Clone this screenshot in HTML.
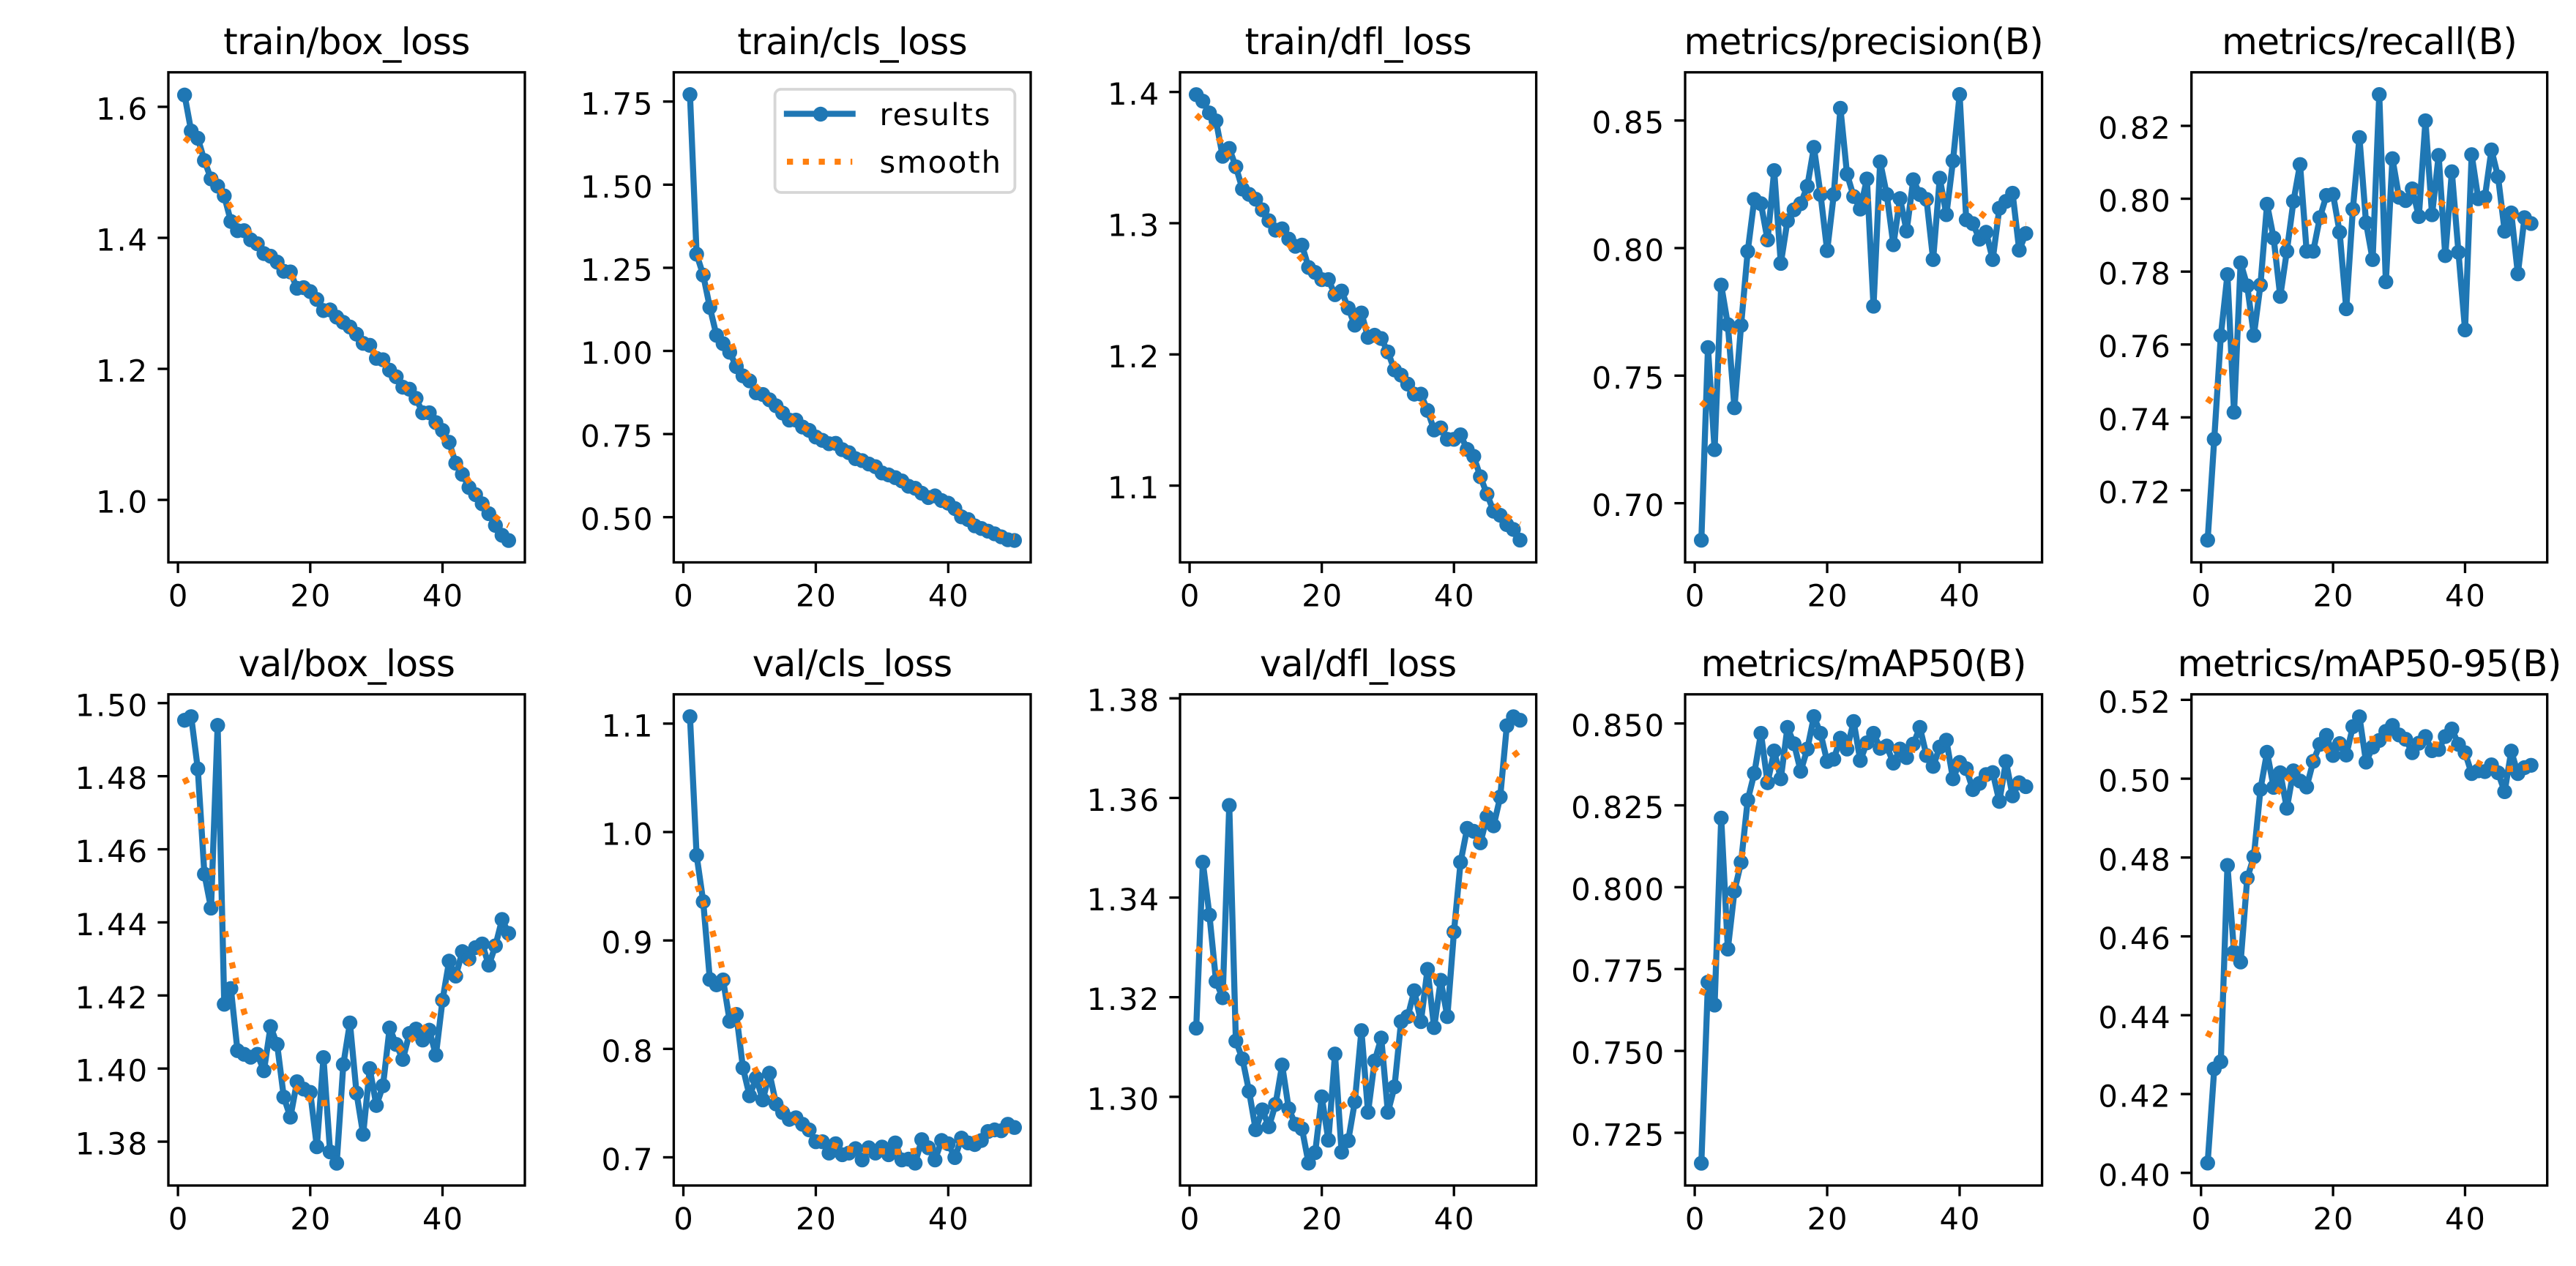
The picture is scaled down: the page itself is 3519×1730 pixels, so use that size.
<!DOCTYPE html>
<html lang="en">
<head>
<meta charset="utf-8">
<title>Training results</title>
<style>
html,body{margin:0;padding:0;background:#fff;width:3519px;height:1730px;overflow:hidden}
svg{display:block}
text{font-family:"DejaVu Sans","Liberation Sans",sans-serif;fill:#000;text-rendering:geometricPrecision}
</style>
</head>
<body>
<svg id="figure" xmlns="http://www.w3.org/2000/svg" width="3519" height="1730" viewBox="0 0 3519 1730"></svg>
<script>
const epochs = [1,2,3,4,5,6,7,8,9,10,11,12,13,14,15,16,17,18,19,20,21,22,23,24,25,26,27,28,29,30,31,32,33,34,35,36,37,38,39,40,41,42,43,44,45,46,47,48,49,50];
const xTickLabels = ["0","20","40"];
const xDomain = [-1.45, 52.45];

const trainBoxResults = [1.618,1.563,1.552,1.518,1.49,1.479,1.464,1.425,1.411,1.411,1.397,1.391,1.376,1.372,1.363,1.349,1.348,1.323,1.324,1.318,1.306,1.289,1.29,1.279,1.271,1.264,1.253,1.239,1.236,1.216,1.214,1.198,1.188,1.172,1.169,1.155,1.133,1.133,1.118,1.106,1.088,1.056,1.039,1.019,1.008,0.994,0.979,0.961,0.946,0.938];
const trainBoxSmooth = [1.553,1.545,1.536,1.519,1.5,1.481,1.462,1.447,1.43,1.418,1.405,1.392,1.382,1.372,1.362,1.352,1.343,1.333,1.324,1.315,1.306,1.297,1.288,1.279,1.27,1.261,1.251,1.241,1.232,1.222,1.21,1.199,1.188,1.175,1.165,1.154,1.139,1.125,1.113,1.097,1.08,1.062,1.045,1.028,1.012,0.998,0.985,0.974,0.966,0.961];
const trainBoxTicks = ["1.0","1.2","1.4","1.6"];
const trainBoxDomain = [0.9046,1.6527];

const trainClsResults = [1.771,1.291,1.228,1.131,1.047,1.022,0.996,0.953,0.925,0.91,0.874,0.869,0.853,0.835,0.813,0.792,0.792,0.771,0.761,0.741,0.731,0.721,0.722,0.703,0.694,0.676,0.67,0.66,0.652,0.633,0.627,0.619,0.609,0.593,0.587,0.572,0.559,0.564,0.55,0.542,0.526,0.501,0.493,0.474,0.466,0.458,0.45,0.441,0.432,0.43];
const trainClsSmooth = [1.33,1.30,1.253,1.2,1.135,1.083,1.035,0.985,0.947,0.92,0.892,0.87,0.85,0.836,0.82,0.804,0.787,0.772,0.76,0.748,0.737,0.725,0.715,0.705,0.695,0.684,0.674,0.662,0.652,0.64,0.628,0.617,0.606,0.596,0.585,0.574,0.564,0.555,0.546,0.534,0.522,0.509,0.495,0.482,0.469,0.46,0.453,0.447,0.443,0.44];
const trainClsTicks = ["0.50","0.75","1.00","1.25","1.50","1.75"];
const trainClsDomain = [0.364,1.838];

const trainDflResults = [1.398,1.393,1.384,1.378,1.351,1.357,1.343,1.326,1.322,1.3183,1.3102,1.3019,1.2947,1.2957,1.2879,1.2824,1.2833,1.2663,1.2625,1.257,1.257,1.2455,1.2483,1.2353,1.2223,1.2316,1.213,1.2146,1.2121,1.2019,1.1882,1.1842,1.1774,1.1697,1.1697,1.1573,1.1424,1.144,1.1353,1.1353,1.1387,1.1276,1.1223,1.1068,1.0935,1.0805,1.0774,1.0703,1.0666,1.0585];
const trainDflSmooth = [1.3825,1.378,1.3735,1.3675,1.36,1.3505,1.342,1.3345,1.3265,1.3175,1.3095,1.3025,1.296,1.2895,1.284,1.278,1.2725,1.2665,1.2605,1.2555,1.251,1.2455,1.2395,1.2345,1.229,1.2245,1.2185,1.2125,1.2065,1.1985,1.1925,1.1845,1.178,1.171,1.164,1.157,1.1505,1.1445,1.139,1.133,1.1275,1.1215,1.114,1.105,1.0965,1.0875,1.0815,1.0765,1.073,1.0705];
const trainDflTicks = ["1.1","1.2","1.3","1.4"];
const trainDflDomain = [1.0415,1.415];

const precisionResults = [0.6855,0.761,0.721,0.7855,0.77,0.7374,0.7697,0.7987,0.8191,0.8174,0.8032,0.8304,0.794,0.8107,0.815,0.8174,0.8242,0.8395,0.821,0.799,0.821,0.8548,0.829,0.8202,0.8153,0.8271,0.7772,0.8338,0.821,0.8013,0.8194,0.8067,0.8268,0.821,0.8191,0.7955,0.8274,0.8131,0.8342,0.8602,0.8111,0.8096,0.8035,0.8062,0.7955,0.8156,0.8183,0.8215,0.7992,0.8057];
const precisionSmooth = [0.738,0.741,0.7465,0.7535,0.7615,0.768,0.7765,0.7845,0.7935,0.8,0.8055,0.8095,0.812,0.8145,0.816,0.818,0.8195,0.821,0.8225,0.823,0.8235,0.824,0.823,0.8215,0.82,0.8185,0.817,0.816,0.8155,0.8152,0.8152,0.8155,0.816,0.817,0.818,0.8195,0.8205,0.821,0.821,0.8205,0.8185,0.816,0.814,0.812,0.8108,0.8103,0.8098,0.8095,0.8092,0.809];
const precisionTicks = ["0.70","0.75","0.80","0.85"];
const precisionDomain = [0.6768,0.8689];

const recallResults = [0.7063,0.734,0.7624,0.7792,0.7414,0.7824,0.7761,0.7625,0.7763,0.7985,0.7892,0.7732,0.7856,0.7993,0.8094,0.7856,0.7856,0.7948,0.8009,0.8012,0.7908,0.7698,0.7971,0.8168,0.7934,0.7833,0.8286,0.7772,0.811,0.8004,0.7995,0.8027,0.7951,0.8214,0.7956,0.8119,0.7844,0.8074,0.7853,0.764,0.8121,0.8,0.8004,0.8134,0.806,0.7911,0.7961,0.7794,0.7948,0.7932];
const recallSmooth = [0.744,0.7468,0.7505,0.7555,0.76,0.7645,0.769,0.7725,0.7762,0.7802,0.783,0.7865,0.789,0.7908,0.7925,0.7932,0.7937,0.7938,0.794,0.794,0.7945,0.795,0.796,0.797,0.7978,0.7985,0.7995,0.8003,0.801,0.8015,0.8018,0.802,0.802,0.8018,0.8007,0.7992,0.7982,0.7972,0.7964,0.7961,0.7968,0.7976,0.7981,0.7983,0.7983,0.7972,0.7962,0.7943,0.7937,0.7934];
const recallTicks = ["0.72","0.74","0.76","0.78","0.80","0.82"];
const recallDomain = [0.7002,0.8347];

const valBoxResults = [1.4953,1.4963,1.482,1.4532,1.4439,1.4939,1.4176,1.4219,1.4049,1.4039,1.4031,1.4039,1.3994,1.4115,1.4066,1.3922,1.3867,1.3964,1.3944,1.3935,1.3786,1.403,1.3772,1.3741,1.4011,1.4125,1.3933,1.382,1.4,1.3899,1.3953,1.4111,1.4066,1.4025,1.4096,1.4108,1.4078,1.4105,1.4037,1.4187,1.4294,1.4253,1.432,1.43,1.4331,1.4341,1.4283,1.4336,1.4408,1.437];
const valBoxSmooth = [1.4795,1.4757,1.4703,1.4632,1.4555,1.4465,1.4385,1.43,1.4225,1.4155,1.4105,1.406,1.4035,1.4015,1.3995,1.398,1.396,1.3945,1.393,1.3915,1.3907,1.3905,1.3908,1.3912,1.3922,1.3932,1.3945,1.396,1.3975,1.3985,1.4005,1.4025,1.4044,1.406,1.4075,1.409,1.4105,1.4125,1.416,1.4195,1.4225,1.425,1.4272,1.429,1.431,1.432,1.4332,1.4342,1.435,1.4355];
const valBoxTicks = ["1.38","1.40","1.42","1.44","1.46","1.48","1.50"];
const valBoxDomain = [1.368,1.5024];

const valClsResults = [1.1064,0.9785,0.9358,0.864,0.8591,0.8636,0.8255,0.8318,0.7825,0.7567,0.7731,0.7529,0.7776,0.7492,0.7413,0.735,0.7365,0.7305,0.7253,0.7144,0.7144,0.7039,0.7125,0.7024,0.7039,0.708,0.6976,0.7088,0.7039,0.7095,0.7024,0.7133,0.6976,0.6983,0.6946,0.7163,0.7088,0.6976,0.7155,0.7125,0.6998,0.7177,0.7133,0.7118,0.7155,0.7238,0.7253,0.7245,0.7305,0.7275];
const valClsSmooth = [0.9635,0.9525,0.9355,0.9165,0.8955,0.871,0.8455,0.8285,0.81,0.792,0.7795,0.7695,0.7605,0.7525,0.746,0.74,0.734,0.729,0.7245,0.72,0.716,0.7125,0.7105,0.708,0.7075,0.7065,0.7062,0.706,0.7058,0.7055,0.7052,0.7051,0.7051,0.7051,0.706,0.7068,0.7078,0.7085,0.7098,0.711,0.7125,0.714,0.7155,0.7175,0.7195,0.7212,0.7228,0.7241,0.725,0.7258];
const valClsTicks = ["0.7","0.8","0.9","1.0","1.1"];
const valClsDomain = [0.674,1.127];

const valDflResults = [1.3138,1.3471,1.3365,1.3232,1.3199,1.3585,1.3112,1.3076,1.3011,1.2934,1.2974,1.294,1.2985,1.3064,1.2976,1.2945,1.2936,1.2867,1.2888,1.3,1.2913,1.3086,1.2889,1.2912,1.299,1.3133,1.2969,1.3072,1.3118,1.2969,1.302,1.3151,1.3161,1.3213,1.3151,1.3256,1.3139,1.3234,1.3161,1.3331,1.3471,1.3539,1.3533,1.351,1.3562,1.3544,1.3602,1.3745,1.3763,1.3756];
const valDflSmooth = [1.3298,1.329,1.328,1.3265,1.3232,1.3195,1.3165,1.3122,1.308,1.3048,1.302,1.2998,1.2985,1.2972,1.2962,1.2955,1.295,1.2947,1.2949,1.2953,1.296,1.2968,1.298,1.299,1.3008,1.3022,1.3038,1.3055,1.3072,1.3088,1.3102,1.312,1.3142,1.3165,1.319,1.3212,1.324,1.3275,1.3308,1.3345,1.3395,1.3445,1.349,1.3535,1.358,1.3612,1.3642,1.3668,1.3685,1.3695];
const valDflTicks = ["1.30","1.32","1.34","1.36","1.38"];
const valDflDomain = [1.2822,1.3808];

const map50Results = [0.7157,0.771,0.764,0.8211,0.7811,0.7988,0.8076,0.8266,0.8348,0.847,0.8319,0.8416,0.8331,0.8488,0.8438,0.8354,0.8422,0.8521,0.847,0.8384,0.8391,0.8455,0.8422,0.8506,0.8387,0.8441,0.847,0.8424,0.8431,0.8379,0.8422,0.8396,0.8437,0.8488,0.8402,0.8369,0.8428,0.8449,0.8331,0.8381,0.8362,0.8298,0.8317,0.8344,0.835,0.8262,0.8384,0.8279,0.8319,0.8307];
const map50Smooth = [0.7672,0.7715,0.7765,0.784,0.7935,0.8015,0.8085,0.8175,0.8245,0.8295,0.8335,0.8363,0.8385,0.8402,0.8413,0.8421,0.8427,0.8431,0.8434,0.8436,0.8437,0.8437,0.8437,0.8437,0.8437,0.8434,0.8432,0.8429,0.8426,0.8424,0.8423,0.8422,0.842,0.8417,0.8413,0.8408,0.8401,0.8392,0.8382,0.8371,0.8357,0.8345,0.8337,0.8331,0.8328,0.8324,0.832,0.8318,0.8316,0.8315];
const map50Ticks = ["0.725","0.750","0.775","0.800","0.825","0.850"];
const map50Domain = [0.7089,0.8589];

const map5095Results = [0.4025,0.4264,0.4282,0.478,0.456,0.4535,0.4748,0.4802,0.4973,0.5067,0.4978,0.5015,0.4925,0.502,0.4994,0.4979,0.5044,0.5087,0.511,0.5059,0.5089,0.506,0.5132,0.5157,0.5042,0.508,0.5097,0.512,0.5135,0.5111,0.51,0.5066,0.509,0.5107,0.5071,0.5074,0.5107,0.5126,0.5087,0.5066,0.5013,0.502,0.5018,0.5035,0.5015,0.4967,0.507,0.5013,0.5028,0.5034];
const map5095Smooth = [0.4345,0.4378,0.4425,0.4502,0.4578,0.4655,0.4725,0.4795,0.4865,0.492,0.495,0.4975,0.4997,0.5012,0.5025,0.5039,0.505,0.506,0.5072,0.5082,0.509,0.5093,0.5096,0.5098,0.51,0.5101,0.5102,0.5102,0.5101,0.51,0.5098,0.5096,0.5094,0.5092,0.5088,0.5086,0.5081,0.5074,0.5066,0.5056,0.5048,0.504,0.5031,0.5027,0.5024,0.5024,0.5025,0.5026,0.5028,0.5031];
const map5095Ticks = ["0.40","0.42","0.44","0.46","0.48","0.50","0.52"];
const map5095Domain = [0.3968,0.5214];

const panelTitles = ["train/box_loss","train/cls_loss","train/dfl_loss","metrics/precision(B)","metrics/recall(B)","val/box_loss","val/cls_loss","val/dfl_loss","metrics/mAP50(B)","metrics/mAP50-95(B)"];
const panelResults = [trainBoxResults,trainClsResults,trainDflResults,precisionResults,recallResults,valBoxResults,valClsResults,valDflResults,map50Results,map5095Results];
const panelSmooth = [trainBoxSmooth,trainClsSmooth,trainDflSmooth,precisionSmooth,recallSmooth,valBoxSmooth,valClsSmooth,valDflSmooth,map50Smooth,map5095Smooth];
const panelTicks = [trainBoxTicks,trainClsTicks,trainDflTicks,precisionTicks,recallTicks,valBoxTicks,valClsTicks,valDflTicks,map50Ticks,map5095Ticks];
const panelDomains = [trainBoxDomain,trainClsDomain,trainDflDomain,precisionDomain,recallDomain,valBoxDomain,valClsDomain,valDflDomain,map50Domain,map5095Domain];
const legendLabels = ["results","smooth"];

const SVGNS = "http://www.w3.org/2000/svg";
const BLUE = "#1f77b4", ORANGE = "#ff7f0e";
const LW = 8.33, SPINE = 3.33, TICK = 14.6, MARKER_R = 10.2;
const DOTS = "8.33 13.4";
const FONT_TICK = 41.67, FONT_TITLE = 50;
const SPACING_TICK = 1.9, SPACING_TITLE = -0.6;
const colBox = [[230,717],[920.4,1408],[1612,2098.6],[2302,2789.6],[2993.7,3479.7]];
const rowBox = [[98.8,768.5],[948.8,1620]];
const figure = document.getElementById("figure");

function mk(parent, tag, attrs, text){
  const el = document.createElementNS(SVGNS, tag);
  for (const k in attrs) el.setAttribute(k, attrs[k]);
  if (text !== undefined) el.textContent = text;
  parent.appendChild(el);
  return el;
}
function slugOf(title){
  return title.toLowerCase().replace(/[^a-z0-9]+/g, "-").replace(/-$/, "");
}
function pathOf(xs, ys){
  return xs.map((x, i) => (i ? "L" : "M") + x.toFixed(2) + " " + ys[i].toFixed(2)).join("");
}

function drawPanel(i){
  const slug = slugOf(panelTitles[i]);
  const [left, right] = colBox[i % 5];
  const [top, bottom] = rowBox[Math.floor(i / 5)];
  const yDomain = panelDomains[i];
  const xScale = v => left + (v - xDomain[0]) / (xDomain[1] - xDomain[0]) * (right - left);
  const yScale = v => bottom - (v - yDomain[0]) / (yDomain[1] - yDomain[0]) * (bottom - top);

  const g = mk(figure, "g", {});
  
  

  const bg = mk(g, "rect", {x:left, y:top, width:right-left, height:bottom-top, fill:"#fff"});
  
  

  const clipId = "clip-" + i;
  const defs = mk(g, "defs", {});
  const clip = mk(defs, "clipPath", {id:clipId});
  mk(clip, "rect", {x:left, y:top, width:right-left, height:bottom-top});

  xTickLabels.forEach(label => {
    const v = Number(label), x = xScale(v);
    const tick = mk(g, "line", {x1:x, x2:x, y1:bottom, y2:bottom+TICK, stroke:"#000", "stroke-width":SPINE});
    
    
    const t = mk(g, "text", {x:x+SPACING_TICK/2, y:bottom+60, "text-anchor":"middle", "font-size":FONT_TICK, "letter-spacing":SPACING_TICK}, label);
    
    
  });

  panelTicks[i].forEach(label => {
    const v = Number(label), y = yScale(v);
    const tick = mk(g, "line", {x1:left-TICK, x2:left, y1:y, y2:y, stroke:"#000", "stroke-width":SPINE});
    
    
    const t = mk(g, "text", {x:left-27, y:y+17.5, "text-anchor":"end", "font-size":FONT_TICK, "letter-spacing":SPACING_TICK}, label);
    
    
  });

  const plot = mk(g, "g", {"clip-path":"url(#" + clipId + ")"});
  
  

  const xs = epochs.map(xScale);
  const line = mk(plot, "path", {d:pathOf(xs, panelResults[i].map(yScale)), fill:"none", stroke:BLUE, "stroke-width":LW, "stroke-linejoin":"round", "stroke-linecap":"square"});
  
  

  panelResults[i].forEach((v, k) => {
    const pt = mk(plot, "circle", {cx:xs[k], cy:yScale(v), r:MARKER_R, fill:BLUE});
    
    
  });

  const smooth = mk(plot, "path", {d:pathOf(xs, panelSmooth[i].map(yScale)), fill:"none", stroke:ORANGE, "stroke-width":LW, "stroke-dasharray":DOTS, "stroke-linejoin":"round"});
  
  

  const frame = mk(g, "rect", {x:left, y:top, width:right-left, height:bottom-top, fill:"none", stroke:"#000", "stroke-width":SPINE});
  
  

  const title = mk(g, "text", {x:(left+right)/2, y:top-25, "text-anchor":"middle", "font-size":FONT_TITLE, "letter-spacing":SPACING_TITLE}, panelTitles[i]);
  
  
}

function drawLegend(){
  const g = mk(figure, "g", {});
  
  

  const box = mk(g, "rect", {x:1058.6, y:122, width:327.8, height:141, rx:8.3, ry:8.3, fill:"#fff", "fill-opacity":0.8, stroke:"#ccc", "stroke-opacity":0.8, "stroke-width":3.8});
  
  

  const h1 = mk(g, "line", {x1:1075, x2:1164.6, y1:155.5, y2:155.5, stroke:BLUE, "stroke-width":LW, "stroke-linecap":"square"});
  
  

  const m1 = mk(g, "circle", {cx:1121, cy:156, r:MARKER_R, fill:BLUE});
  
  

  const t1 = mk(g, "text", {x:1201.5, y:171, "font-size":FONT_TICK, "letter-spacing":SPACING_TICK}, legendLabels[0]);
  
  

  const h2 = mk(g, "line", {x1:1075, x2:1164.3, y1:221, y2:221, stroke:ORANGE, "stroke-width":LW, "stroke-dasharray":DOTS});
  
  

  const t2 = mk(g, "text", {x:1201.5, y:236, "font-size":FONT_TICK, "letter-spacing":SPACING_TICK}, legendLabels[1]);
  
  
}

panelTitles.forEach((_, i) => drawPanel(i));
drawLegend();
</script>
</body>
</html>
